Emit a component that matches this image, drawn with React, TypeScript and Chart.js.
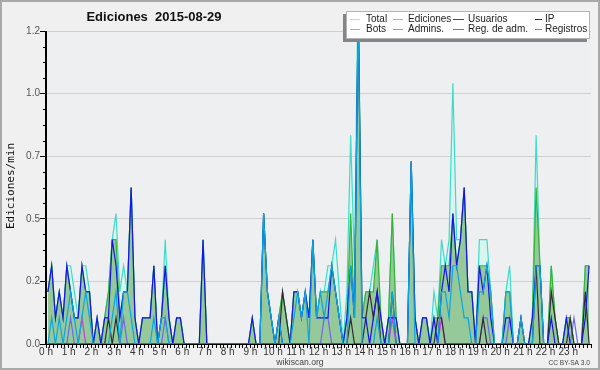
import React, { useEffect, useRef } from 'react';
import { Chart, registerables } from 'chart.js';

Chart.register(...registerables);

// Edits per 10-minute bin (144 bins = 24 h); plotted as edits per minute.
const total = [
  2,3,1,2,1,3, 3,2,1,3,3,2, 0,1,0,1,2,4, 5,2,3,2,6,1,
  0,1,1,1,3,0, 1,4,1,0,1,1, 0,0,0,0,0,4, 0,0,0,0,0,0,
  0,0,0,0,0,0, 1,0,0,5,2,1, 0,1,2,1,0,2, 2,1,2,1,4,1,
  2,2,3,3,4,2, 0,2,8,3,14,1, 2,2,3,4,1,0, 1,5,1,0,0,0,
  7,1,0,1,1,0, 2,1,4,3,4,10, 4,4,6,2,2,0, 4,4,4,2,0,0,
  0,2,3,0,0,1, 0,0,1,8,3,0, 0,3,1,0,0,1, 1,0,0,0,3,3,
];
const ediciones = [
  2,3,1,2,1,3, 2,1,1,3,2,2, 0,1,0,1,2,4, 4,1,2,2,6,1,
  0,1,1,1,3,0, 1,3,1,0,1,1, 0,0,0,0,0,4, 0,0,0,0,0,0,
  0,0,0,0,0,0, 1,0,0,5,2,1, 0,1,2,1,0,2, 2,1,2,1,4,1,
  2,2,2,3,2,1, 0,1,5,1,13,1, 2,2,2,4,1,0, 1,5,1,0,0,0,
  7,1,0,1,1,0, 1,1,3,3,3,5, 3,4,6,2,2,0, 3,3,3,2,0,0,
  0,2,2,0,0,1, 0,0,1,6,3,0, 0,3,1,0,0,1, 1,0,0,0,3,3,
];
const usuarios = [
  2,3,1,2,1,3, 2,1,1,3,2,2, 0,1,0,1,1,4, 3,1,2,2,6,1,
  0,1,1,1,3,0, 1,3,1,0,1,1, 0,0,0,0,0,4, 0,0,0,0,0,0,
  0,0,0,0,0,0, 1,0,0,5,2,1, 0,1,0,0,0,2, 2,1,2,1,4,1,
  1,1,1,3,2,1, 0,1,3,1,13,1, 1,0,1,2,1,0, 1,1,1,0,0,0,
  7,1,0,1,1,0, 1,0,2,3,2,5, 3,4,6,2,2,0, 3,2,3,1,0,0,
  0,1,1,0,0,1, 0,0,1,3,3,0, 0,1,0,0,0,1, 0,0,0,0,1,3,
];
const ip = [
  0,0,0,0,0,0, 0,0,0,0,0,0, 0,0,0,0,1,0, 1,0,0,0,0,0,
  0,0,0,0,0,0, 0,0,0,0,0,0, 0,0,0,0,0,0, 0,0,0,0,0,0,
  0,0,0,0,0,0, 0,0,0,0,0,0, 0,0,2,1,0,0, 0,0,0,0,0,0,
  0,0,0,0,0,0, 0,0,1,0,0,0, 1,2,1,2,0,0, 0,2,0,0,0,0,
  0,0,0,0,0,0, 0,1,1,0,0,0, 0,0,0,0,0,0, 0,1,0,0,0,0,
  0,0,0,0,0,0, 0,0,0,3,0,0, 0,2,1,0,0,0, 1,0,0,0,2,0,
];
const bots = [
  0,0,0,0,0,0, 0,0,0,0,0,0, 0,0,0,0,0,0, 0,0,0,0,0,0,
  0,0,0,0,0,0, 0,0,0,0,0,0, 0,0,0,0,0,0, 0,0,0,0,0,0,
  0,0,0,0,0,0, 0,0,0,0,0,0, 0,0,0,0,0,0, 0,0,0,0,0,0,
  0,0,0,0,0,0, 0,0,0,0,0,0, 0,0,0,0,0,0, 0,0,0,0,0,0,
  0,0,0,0,0,0, 0,0,0,0,0,0, 0,0,0,0,0,0, 0,0,0,0,0,0,
  0,0,0,0,0,0, 0,0,0,0,0,0, 0,0,0,0,0,0, 0,0,0,0,0,0,
];
const admins = [
  0,1,0,1,0,1, 2,1,0,1,2,1, 0,0,0,0,0,1, 2,0,2,2,1,0,
  0,0,0,0,1,0, 1,1,0,0,0,0, 0,0,0,0,0,0, 0,0,0,0,0,0,
  0,0,0,0,0,0, 0,0,0,5,2,1, 0,1,0,0,0,1, 2,1,2,0,4,1,
  2,1,2,3,2,1, 0,0,3,1,13,0, 0,0,0,1,0,0, 0,2,0,0,0,0,
  7,0,0,0,0,0, 0,0,2,2,1,3, 3,2,1,1,0,0, 2,2,3,2,0,0,
  0,2,2,0,0,1, 0,0,0,3,3,0, 0,0,0,0,0,0, 0,0,0,0,0,0,
];
const regAdm = [
  0,0,0,0,0,0, 0,0,0,1,0,0, 0,0,0,0,0,0, 0,0,0,0,0,0,
  0,0,0,0,0,0, 0,0,0,0,0,0, 0,0,0,0,0,0, 0,0,0,0,0,0,
  0,0,0,0,0,0, 0,0,0,0,0,0, 0,0,0,0,0,0, 0,0,0,0,0,0,
  0,0,0,0,0,0, 0,0,0,0,0,0, 0,0,0,0,0,0, 0,1,0,0,0,0,
  0,0,0,0,0,0, 0,0,1,0,0,0, 0,0,0,0,0,0, 0,0,0,0,0,0,
  0,0,0,0,0,0, 0,0,0,0,0,0, 0,0,0,0,0,0, 0,0,0,0,0,0,
];
const registros = [
  0,0,0,0,0,0, 1,0,0,0,0,0, 0,0,0,0,0,0, 0,0,1,0,0,0,
  0,0,0,0,0,0, 0,1,0,0,0,0, 0,0,0,0,0,0, 0,0,0,0,0,0,
  0,0,0,0,0,0, 0,0,0,0,0,0, 0,0,0,0,0,0, 0,0,0,0,0,0,
  0,1,1,0,0,0, 0,0,0,0,0,0, 0,0,0,0,0,0, 0,0,0,0,0,0,
  0,0,0,0,0,0, 0,0,0,0,0,0, 0,0,0,0,0,0, 0,1,1,0,0,0,
  0,0,1,0,0,0, 0,0,0,0,0,0, 0,0,0,0,0,0, 0,1,0,0,0,0,
];

const BINS_PER_HOUR = 6;
const BIN_MINUTES = 10;
const X_MAX_HOURS = 24;
const Y_MAX = 1.2;
const Y_MINOR_STEP = 0.06;
const Y_MAJOR_VALUES = [0, 0.24, 0.48, 0.72, 0.96, 1.2];
const Y_MAJOR_LABELS = ['0.0', '0.2', '0.5', '0.7', '1.0', '1.2'];

const TITLE = 'Ediciones  2015-08-29';
const Y_TITLE = 'Ediciones/min';
const FOOTER = 'wikiscan.org';
const LICENSE = 'CC BY-SA 3.0';

const legendItems = [
  { label: 'Total', color: '#a6e9df' },
  { label: 'Ediciones', color: '#7fd07f' },
  { label: 'Usuarios', color: '#3a3ad6' },
  { label: 'IP', color: '#333333' },
  { label: 'Bots', color: '#f4a040' },
  { label: 'Admins.', color: '#3fc6e4' },
  { label: 'Reg. de adm.', color: '#d040d8' },
  { label: 'Registros', color: '#7a7ae6' },
];

const toPoints = (arr: number[]) =>
  arr.map((v, i) => ({ x: (i + 0.5) / BINS_PER_HOUR, y: v / BIN_MINUTES }));

const isMajorY = (v: number) => Y_MAJOR_VALUES.some((m) => Math.abs(m - v) < 1e-6);

const FONT = "'Liberation Sans', Arial, sans-serif";

const decorPlugin = {
  id: 'decor',
  beforeDraw(chart: any) {
    const { ctx, chartArea, width, height } = chart;
    ctx.save();
    ctx.fillStyle = '#f0f0f0';
    ctx.fillRect(0, 0, width, height);
    ctx.fillStyle = '#eeeff1';
    ctx.fillRect(chartArea.left, chartArea.top, chartArea.right - chartArea.left, chartArea.bottom - chartArea.top);
    ctx.restore();
  },
  afterDatasetsDraw(chart: any) {
    const { ctx, chartArea } = chart;
    ctx.save();
    ctx.strokeStyle = '#000';
    ctx.lineWidth = 1;
    ctx.beginPath();
    ctx.moveTo(chartArea.left, chartArea.bottom + 0.5);
    ctx.lineTo(chartArea.right, chartArea.bottom + 0.5);
    ctx.moveTo(chartArea.left - 0.5, chartArea.top);
    ctx.lineTo(chartArea.left - 0.5, chartArea.bottom + 1);
    ctx.stroke();
    // minor y ticks
    const ys = chart.scales.y;
    ctx.beginPath();
    for (const t of ys.ticks) {
      if (isMajorY(t.value)) continue;
      const py = Math.round(ys.getPixelForValue(t.value)) + 0.5;
      ctx.moveTo(chartArea.left - 3, py);
      ctx.lineTo(chartArea.left, py);
    }
    ctx.stroke();
    ctx.restore();
  },
  afterDraw(chart: any) {
    const { ctx, width, height } = chart;
    ctx.save();
    // outer frame
    ctx.strokeStyle = '#a9a9a9';
    ctx.lineWidth = 2;
    ctx.strokeRect(1, 1, width - 2, height - 2);

    // title
    ctx.fillStyle = '#111';
    ctx.font = `bold 13px ${FONT}`;
    ctx.textAlign = 'center';
    ctx.textBaseline = 'alphabetic';
    ctx.fillText(TITLE, 154, 21);

    // y title
    ctx.save();
    ctx.translate(14, 186);
    ctx.rotate(-Math.PI / 2);
    ctx.font = `11px 'DejaVu Sans Mono', monospace`;
    ctx.fillStyle = '#111';
    ctx.textAlign = 'center';
    ctx.textBaseline = 'alphabetic';
    ctx.fillText(Y_TITLE, 0, 0);
    ctx.restore();

    // footer
    ctx.font = `8.6px ${FONT}`;
    ctx.fillStyle = '#444';
    ctx.textAlign = 'center';
    ctx.fillText(FOOTER, 300, 365);
    ctx.font = `6.6px ${FONT}`;
    ctx.textAlign = 'right';
    ctx.fillText(LICENSE, 590, 365);

    // legend
    const bx = 346, by = 11, bw = 244, bh = 28;
    ctx.fillStyle = '#858585';
    ctx.fillRect(bx - 3, by + 3, bw, bh);
    ctx.fillStyle = '#ffffff';
    ctx.fillRect(bx, by, bw, bh);
    ctx.strokeStyle = '#b4b4b4';
    ctx.lineWidth = 1;
    ctx.strokeRect(bx + 0.5, by + 0.5, bw - 1, bh - 1);
    const cols = [
      { sx: 350, sw: 10, tx: 366 },
      { sx: 393, sw: 10, tx: 408 },
      { sx: 453, sw: 11, tx: 468 },
      { sx: 535, sw: 7, tx: 545 },
    ];
    const rows = [19.5, 29.5];
    ctx.font = `10px ${FONT}`;
    ctx.textAlign = 'left';
    ctx.textBaseline = 'middle';
    legendItems.forEach((it, k) => {
      const c = cols[k % 4];
      const r = rows[Math.floor(k / 4)];
      ctx.strokeStyle = it.color;
      ctx.lineWidth = 1;
      ctx.beginPath();
      ctx.moveTo(c.sx, r);
      ctx.lineTo(c.sx + c.sw, r);
      ctx.stroke();
      ctx.fillStyle = '#222';
      ctx.fillText(it.label, c.tx, r);
    });
    ctx.restore();
  },
};

const seriesDefs = [
  { label: 'Total', data: total, color: '#3edbc9', fill: '#d8f5ef', order: 8 },
  { label: 'Ediciones', data: ediciones, color: '#36b436', fill: '#96c99a', order: 7 },
  { label: 'Bots', data: bots, color: '#f4a040', fill: null, order: 6 },
  { label: 'Registros', data: registros, color: '#6a6ae8', fill: null, order: 5 },
  { label: 'Reg. de adm.', data: regAdm, color: '#c83cd8', fill: null, order: 4 },
  { label: 'IP', data: ip, color: '#2e2e2e', fill: null, order: 3 },
  { label: 'Usuarios', data: usuarios, color: '#1414ee', fill: null, order: 2 },
  { label: 'Admins.', data: admins, color: '#0aa6e2', fill: null, order: 1 },
];

export default function App() {
  const ref = useRef<HTMLCanvasElement | null>(null);

  useEffect(() => {
    document.body.style.margin = '0';
    const canvas = ref.current;
    if (!canvas) return;
    const chart = new Chart(canvas, {
      type: 'line',
      data: {
        datasets: seriesDefs.map((s) => ({
          label: s.label,
          data: toPoints(s.data),
          borderColor: s.color,
          backgroundColor: s.fill || s.color,
          fill: s.fill ? 'origin' : false,
          borderWidth: 1.2,
          pointRadius: 0,
          tension: 0,
          order: s.order,
        })),
      },
      options: {
        animation: false,
        responsive: false,
        devicePixelRatio: 1,
        layout: { padding: { left: 10, top: 31, right: 9, bottom: 0 } },
        plugins: { legend: { display: false }, tooltip: { enabled: false }, title: { display: false } },
        scales: {
          x: {
            type: 'linear',
            min: 0,
            max: X_MAX_HOURS,
            afterBuildTicks: (scale: any) => {
              const t = [];
              for (let j = 0; j <= X_MAX_HOURS * BINS_PER_HOUR; j++) t.push({ value: j / BINS_PER_HOUR });
              scale.ticks = t;
            },
            afterFit: (scale: any) => { scale.height = 26; },
            grid: { drawOnChartArea: false, tickColor: '#000', tickLength: 4, lineWidth: 1 },
            border: { color: '#000' },
            ticks: {
              autoSkip: false,
              maxRotation: 0,
              padding: -2,
              color: '#333',
              font: { family: FONT, size: 10 },
              callback: (v: any) => {
                const n = Number(v);
                if (Math.abs(n - Math.round(n)) < 1e-6 && Math.round(n) < X_MAX_HOURS) return `${Math.round(n)} h`;
                return '';
              },
            },
          },
          y: {
            type: 'linear',
            min: 0,
            max: Y_MAX,
            afterBuildTicks: (scale: any) => {
              const t = [];
              const n = Math.round(Y_MAX / Y_MINOR_STEP);
              for (let j = 0; j <= n; j++) t.push({ value: j * Y_MINOR_STEP });
              scale.ticks = t;
            },
            afterFit: (scale: any) => { scale.width = 36; },
            grid: {
              color: (c: any) => (c.tick && isMajorY(c.tick.value) && c.tick.value > 0 ? '#cfcfcf' : 'rgba(0,0,0,0)'),
              tickColor: (c: any) => (c.tick && isMajorY(c.tick.value) ? '#000' : 'rgba(0,0,0,0)'),
              tickLength: 6,
              lineWidth: 1,
            },
            border: { color: '#000' },
            ticks: {
              autoSkip: false,
              padding: 0,
              color: '#555',
              font: { family: FONT, size: 10 },
              callback: (v: any) => {
                const idx = Y_MAJOR_VALUES.findIndex((m) => Math.abs(m - Number(v)) < 1e-6);
                return idx >= 0 ? Y_MAJOR_LABELS[idx] : '';
              },
            },
          },
        },
      },
      plugins: [decorPlugin],
    });
    return () => chart.destroy();
  }, []);

  return <canvas ref={ref} width={600} height={370} style={{ display: 'block', width: 600, height: 370 }} />;
}
